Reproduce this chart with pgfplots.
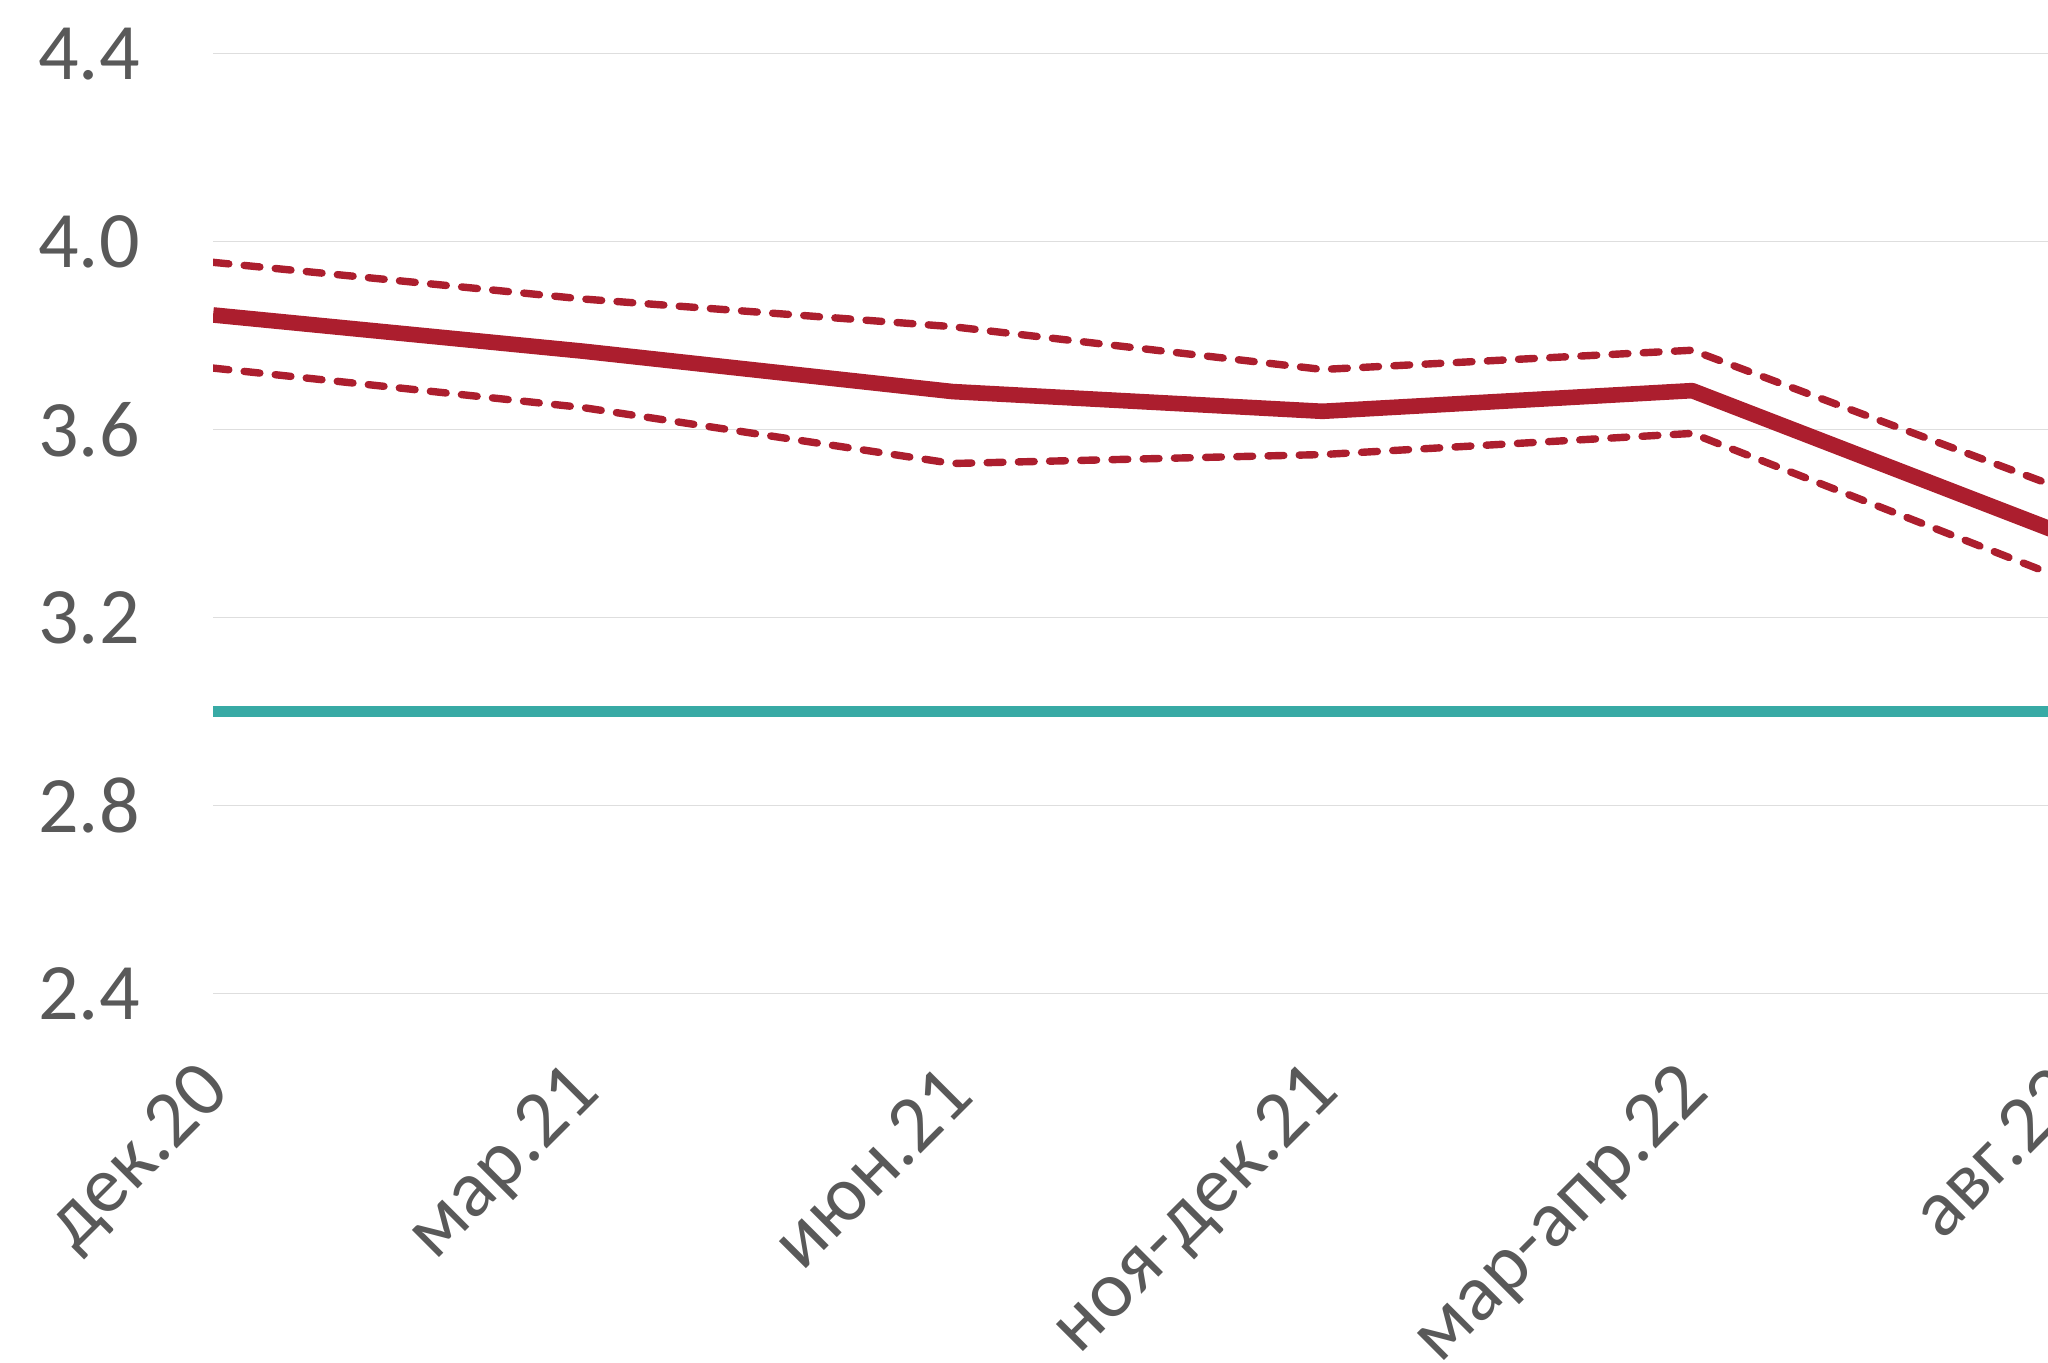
\documentclass[border=0pt]{standalone}
\usepackage{fontspec}
\setmainfont{Carlito}
\usepackage{pgfplots}
\pgfplotsset{compat=1.18}
\definecolor{cbred}{RGB}{172,30,46}
\definecolor{cbteal}{RGB}{56,170,165}
\definecolor{ticktext}{RGB}{89,89,89}
\definecolor{gridc}{RGB}{222,222,222}

\begin{document}
\begin{tikzpicture}
\begin{axis}[
  name=ax,
  scale only axis,
  width=462pt, height=234.9pt,
  xmin=0, xmax=5, ymin=2.4, ymax=4.4,
  xtick={0,1,2,3,4,5},
  xticklabels={дек.20, мар.21, июн.21, ноя-дек.21, мар-апр.22, авг.22},
  ytick={2.4,2.8,3.2,3.6,4.0,4.4},
  axis line style={draw=none},
  major tick length=0pt,
  ymajorgrids=true,
  grid style={gridc, line width=0.4pt},
  ticklabel style={font=\fontsize{20}{24}\selectfont, text=ticktext},
  x tick label style={xshift=3.8pt, yshift=-19.2pt, rotate=45, anchor=east},
  y tick label style={xshift=-14.8pt},
  /pgf/number format/fixed,
  /pgf/number format/fixed zerofill,
  /pgf/number format/precision=1,
  /pgf/number format/assume math mode=true,
]
% target
\addplot[cbteal, line width=2.9pt] coordinates {(0,3.0)(5,3.0)};
% upper bound
\addplot[cbred, line width=1.85pt, dash pattern=on 3.95pt off 3.85pt, line cap=round, line join=round]
  coordinates {(0,3.956)(1,3.878)(2,3.819)(3,3.728)(4,3.769)(5,3.474)};
% lower bound
\addplot[cbred, line width=1.85pt, dash pattern=on 3.95pt off 3.85pt, line cap=round, line join=round]
  coordinates {(0,3.731)(1,3.647)(2,3.528)(3,3.547)(4,3.592)(5,3.284)};
% central estimate
\addplot[cbred, line width=3.9pt, line join=round]
  coordinates {(0,3.844)(1,3.767)(2,3.681)(3,3.639)(4,3.683)(5,3.379)};
\end{axis}
\pgfresetboundingbox
\path ([xshift=-53.25pt,yshift=-92.25pt]ax.south west) rectangle ([xshift=-3.5pt,yshift=13.4pt]ax.north east);
\end{tikzpicture}
\end{document}
